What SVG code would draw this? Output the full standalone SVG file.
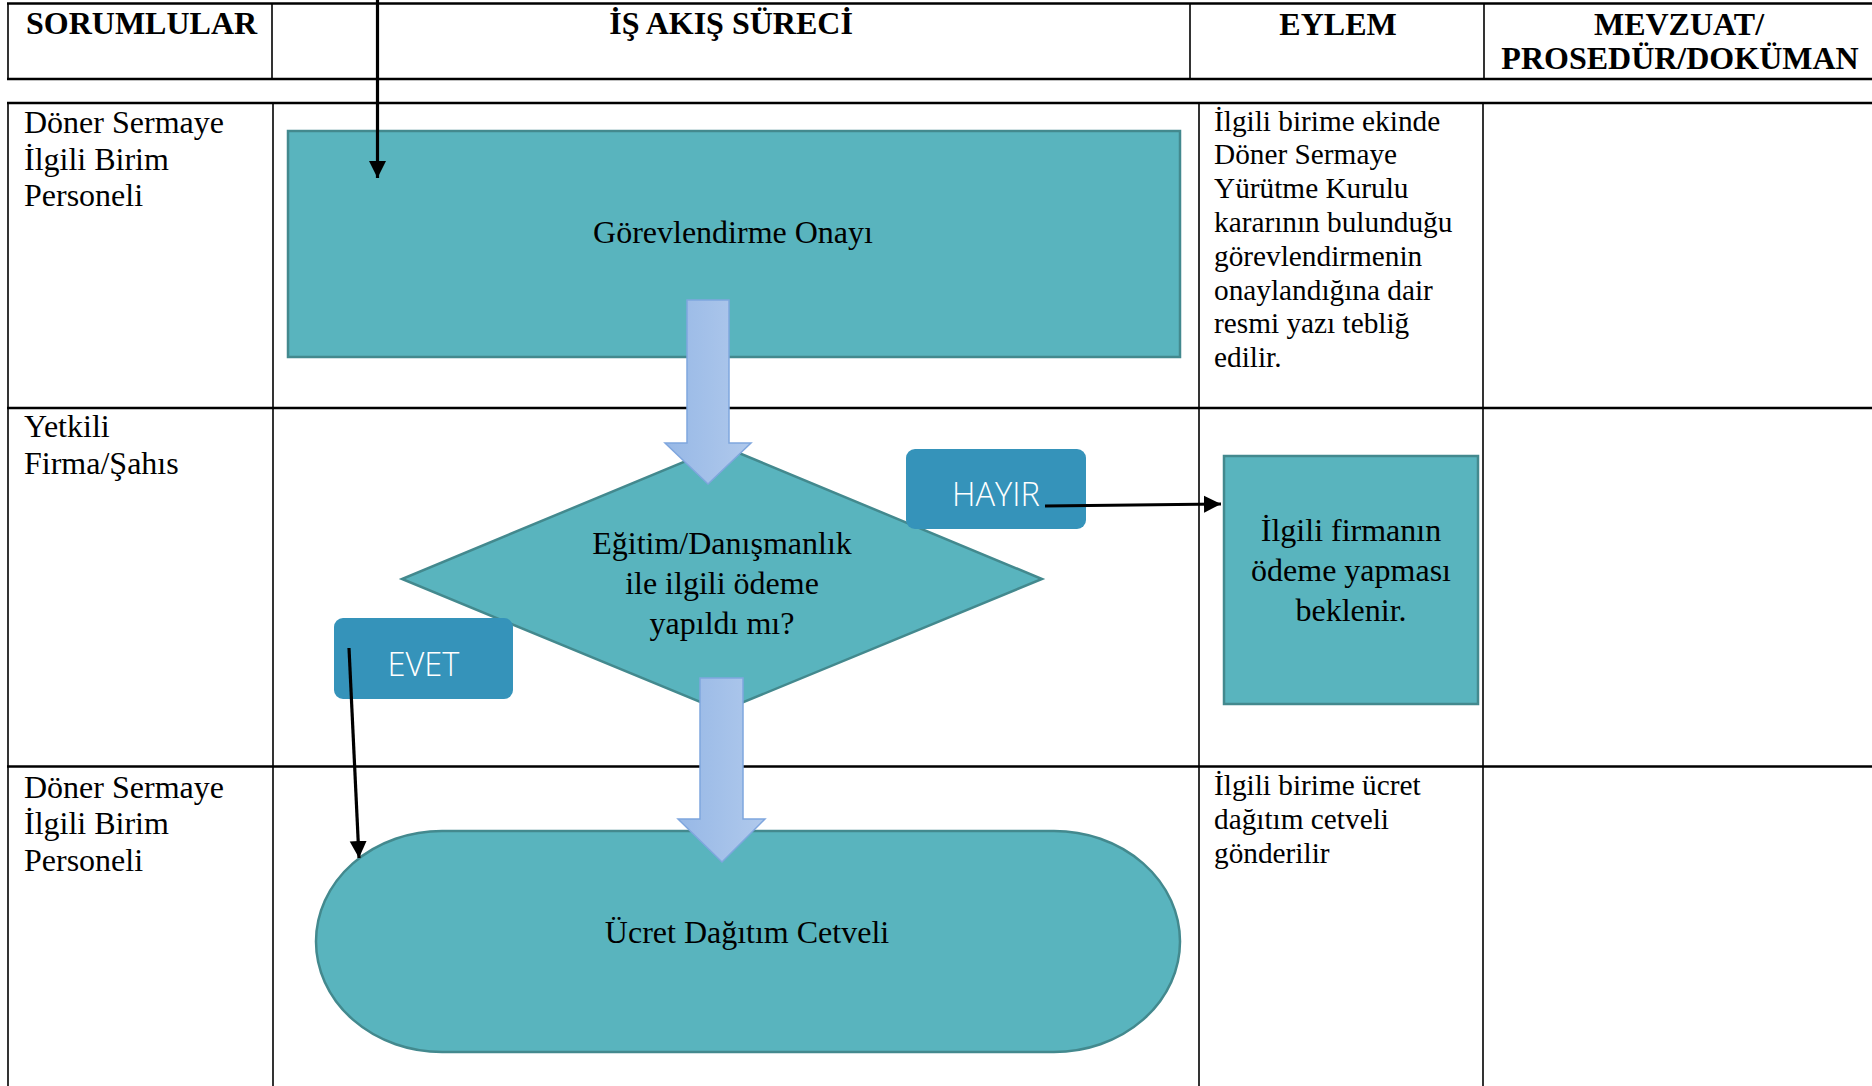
<svg xmlns="http://www.w3.org/2000/svg" width="1872" height="1086" viewBox="0 0 1872 1086">
<style>
.bg{fill:#ffffff}
.h{stroke:#000;stroke-width:2.5;fill:none}
.v{stroke:#000;stroke-width:1.6;fill:none}
.hd{font-family:"Liberation Serif","Times New Roman",serif;font-weight:bold;font-size:32px;fill:#000}
.t32{font-family:"Liberation Serif","Times New Roman",serif;font-size:32px;fill:#000}
.t29{font-family:"Liberation Serif","Times New Roman",serif;font-size:29.3px;fill:#000}
.mid{text-anchor:middle}
.teal{fill:#59B4BE;stroke:#43898E;stroke-width:2.5}
.lbl{fill:#3593BA}
.lt{font-family:"Open Sans","Liberation Sans",sans-serif;font-weight:300;font-size:32.6px;fill:#ffffff;text-anchor:middle}
.blk{fill:url(#bg1);stroke:#7FA6DE;stroke-width:1.5}
.con{stroke:#000;stroke-width:3.2;fill:none}
</style>
<defs>
<linearGradient id="bg1" x1="0" y1="0" x2="1" y2="0">
<stop offset="0" stop-color="#97B8E6"/>
<stop offset="1" stop-color="#B0C9EC"/>
</linearGradient>
<marker id="ah" markerUnits="userSpaceOnUse" markerWidth="20" markerHeight="20" refX="17" refY="9" orient="auto">
<path d="M0,0.5 L17,9 L0,17.5 Z" fill="#000"/>
</marker>
</defs>
<rect class="bg" x="0" y="0" width="1872" height="1086"/>

<g id="table">
<line class="h" x1="7" y1="3.5" x2="1872" y2="3.5"/>
<line class="h" x1="7" y1="79" x2="1872" y2="79"/>
<line class="v" x1="8" y1="3" x2="8" y2="79"/>
<line class="v" x1="272" y1="3" x2="272" y2="79"/>
<line class="v" x1="1190" y1="3" x2="1190" y2="79"/>
<line class="v" x1="1484" y1="3" x2="1484" y2="79"/>
<line class="h" x1="7" y1="103" x2="1872" y2="103"/>
<line class="h" x1="7" y1="408" x2="1872" y2="408"/>
<line class="h" x1="7" y1="766.5" x2="1872" y2="766.5"/>
<line class="v" x1="8" y1="103" x2="8" y2="1086"/>
<line class="v" x1="273" y1="103" x2="273" y2="1086"/>
<line class="v" x1="1199" y1="103" x2="1199" y2="1086"/>
<line class="v" x1="1483" y1="103" x2="1483" y2="1086"/>
</g>

<g id="headers">
<text class="hd" x="26" y="34">SORUMLULAR</text>
<text class="hd mid" x="731" y="34">İŞ AKIŞ SÜRECİ</text>
<text class="hd mid" x="1338" y="35">EYLEM</text>
<text class="hd mid" x="1679" y="35">MEVZUAT/</text>
<text class="hd mid" x="1680" y="69">PROSEDÜR/DOKÜMAN</text>
</g>

<g id="row-labels">
<text class="t32" x="24" y="133"><tspan x="24">Döner Sermaye</tspan><tspan x="24" dy="36.5">İlgili Birim</tspan><tspan x="24" dy="36.5">Personeli</tspan></text>
<text class="t32" x="24" y="437"><tspan x="24">Yetkili</tspan><tspan x="24" dy="37">Firma/Şahıs</tspan></text>
<text class="t32" x="24" y="797.5"><tspan x="24">Döner Sermaye</tspan><tspan x="24" dy="36.8">İlgili Birim</tspan><tspan x="24" dy="36.8">Personeli</tspan></text>
</g>

<g id="actions">
<text class="t29" x="1214" y="130.5"><tspan x="1214">İlgili birime ekinde</tspan><tspan x="1214" dy="33.8">Döner Sermaye</tspan><tspan x="1214" dy="33.8">Yürütme Kurulu</tspan><tspan x="1214" dy="33.8">kararının bulunduğu</tspan><tspan x="1214" dy="33.8">görevlendirmenin</tspan><tspan x="1214" dy="33.8">onaylandığına dair</tspan><tspan x="1214" dy="33.8">resmi yazı tebliğ</tspan><tspan x="1214" dy="33.8">edilir.</tspan></text>
<text class="t29" x="1214" y="795"><tspan x="1214">İlgili birime ücret</tspan><tspan x="1214" dy="33.8">dağıtım cetveli</tspan><tspan x="1214" dy="33.8">gönderilir</tspan></text>
</g>

<g id="node-gorevlendirme">
<rect class="teal" x="288" y="131" width="892" height="226"/>
<text class="t32 mid" x="733" y="243">Görevlendirme Onayı</text>
</g>

<g id="node-karar">
<polygon class="teal" points="722,446 1042,579 722,711 402,579"/>
<text class="t32 mid" x="722" y="553.5"><tspan x="722">Eğitim/Danışmanlık</tspan><tspan x="722" dy="40">ile ilgili ödeme</tspan><tspan x="722" dy="40">yapıldı mı?</tspan></text>
</g>

<g id="node-bekle">
<rect class="teal" x="1224" y="456" width="254" height="248"/>
<text class="t32 mid" x="1351" y="540.5"><tspan x="1351">İlgili firmanın</tspan><tspan x="1351" dy="40">ödeme yapması</tspan><tspan x="1351" dy="40">beklenir.</tspan></text>
</g>

<g id="node-cetvel">
<path class="teal" d="M442,831 H1054 A126,110.5 0 0 1 1054,1052 H442 A126,110.5 0 0 1 442,831 Z"/>
<text class="t32 mid" x="747" y="942.5">Ücret Dağıtım Cetveli</text>
</g>

<g id="label-hayir">
<rect class="lbl" x="906" y="449" width="180" height="80" rx="9"/>
<text class="lt" x="996" y="506">HAYIR</text>
</g>

<g id="label-evet">
<rect class="lbl" x="334" y="618" width="179" height="81" rx="9"/>
<text class="lt" x="423.5" y="676">EVET</text>
</g>

<g id="connectors">
<path class="blk" d="M687,300 H729 V443 H751 L708,484 L665,443 H687 Z"/>
<path class="blk" d="M700,678 H743 V819 H765 L722,862 L678,819 H700 Z"/>
<line class="con" x1="377.5" y1="0" x2="377.5" y2="178" marker-end="url(#ah)"/>
<line class="con" x1="1045" y1="506" x2="1221" y2="504" marker-end="url(#ah)"/>
<line class="con" x1="349" y1="648" x2="359" y2="858" marker-end="url(#ah)"/>
</g>
</svg>
